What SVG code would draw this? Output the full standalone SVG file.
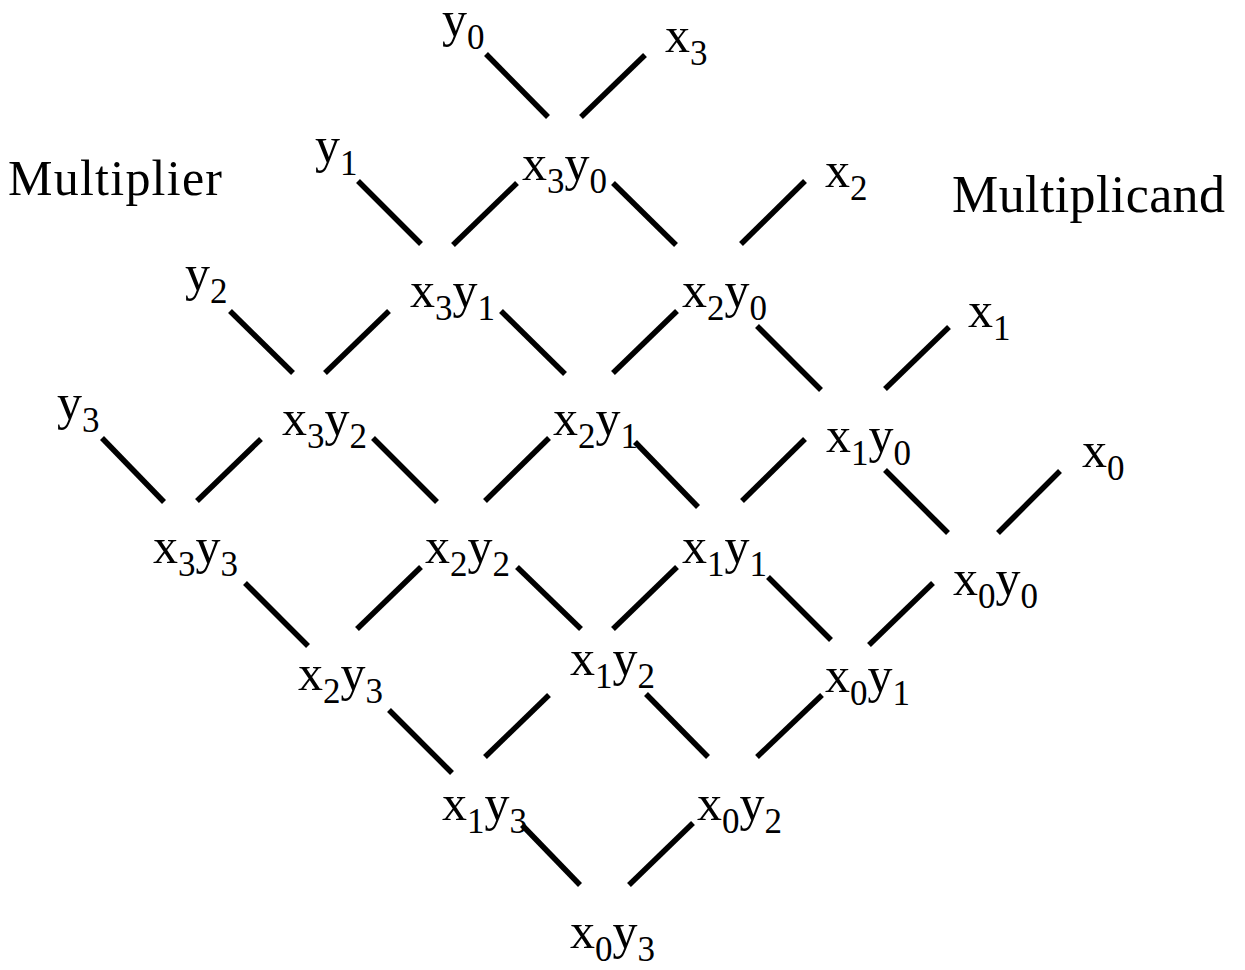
<svg xmlns="http://www.w3.org/2000/svg" width="1245" height="970" viewBox="0 0 1245 970" font-family="Liberation Serif, Times New Roman, DejaVu Serif, serif">
<style>
text{font-size:50px;fill:#000}
.s{font-size:35px}
#connectors line{stroke:#000;stroke-width:5.5;stroke-linecap:butt}
</style>
<rect width="1245" height="970" fill="#fff"/>
<g id="connectors">
<line x1="486" y1="54" x2="548" y2="117"/>
<line x1="645" y1="55" x2="581" y2="117"/>
<line x1="358" y1="181" x2="421" y2="244"/>
<line x1="517" y1="183" x2="453" y2="245"/>
<line x1="613" y1="183" x2="676" y2="245"/>
<line x1="805" y1="181" x2="741" y2="244"/>
<line x1="230" y1="311" x2="293" y2="373"/>
<line x1="389" y1="311" x2="325" y2="373"/>
<line x1="501" y1="311" x2="565" y2="374"/>
<line x1="677" y1="311" x2="613" y2="373"/>
<line x1="757" y1="326" x2="821" y2="390"/>
<line x1="949" y1="327" x2="885" y2="389"/>
<line x1="102" y1="438" x2="164" y2="502"/>
<line x1="261" y1="439" x2="197" y2="501"/>
<line x1="373" y1="438" x2="437" y2="502"/>
<line x1="549" y1="438" x2="485" y2="501"/>
<line x1="635" y1="442" x2="698" y2="507"/>
<line x1="805" y1="439" x2="742" y2="501"/>
<line x1="885" y1="470" x2="948" y2="533"/>
<line x1="1060" y1="471" x2="998" y2="533"/>
<line x1="245" y1="583" x2="308" y2="646"/>
<line x1="421" y1="567" x2="357" y2="629"/>
<line x1="517" y1="567" x2="581" y2="629"/>
<line x1="677" y1="567" x2="613" y2="629"/>
<line x1="768" y1="577" x2="831" y2="640"/>
<line x1="933" y1="583" x2="869" y2="645"/>
<line x1="389" y1="710" x2="452" y2="773"/>
<line x1="549" y1="695" x2="485" y2="757"/>
<line x1="646" y1="694" x2="708" y2="757"/>
<line x1="822" y1="695" x2="757" y2="757"/>
<line x1="522" y1="825" x2="580" y2="885"/>
<line x1="693" y1="823" x2="629" y2="885"/>
</g>
<g id="label-multiplier"><text x="8" y="195" textLength="214" lengthAdjust="spacing">Multiplier</text></g>
<g id="label-multiplicand"><text x="952" y="212" style="font-size:52px" textLength="273" lengthAdjust="spacing">Multiplicand</text></g>
<g id="in-y0"><text x="442" y="36">y<tspan class="s" dy="13">0</tspan></text></g>
<g id="in-x3"><text x="665" y="52">x<tspan class="s" dy="13">3</tspan></text></g>
<g id="in-y1"><text x="315" y="162">y<tspan class="s" dy="13">1</tspan></text></g>
<g id="in-x2"><text x="825" y="187">x<tspan class="s" dy="13">2</tspan></text></g>
<g id="in-y2"><text x="185" y="290">y<tspan class="s" dy="13">2</tspan></text></g>
<g id="in-x1"><text x="968" y="327">x<tspan class="s" dy="13">1</tspan></text></g>
<g id="in-y3"><text x="57" y="419">y<tspan class="s" dy="13">3</tspan></text></g>
<g id="in-x0"><text x="1082" y="467">x<tspan class="s" dy="13">0</tspan></text></g>
<g id="p-x3y0"><text x="522" y="180">x<tspan class="s" dy="13">3</tspan><tspan dy="-13">y</tspan><tspan class="s" dy="13">0</tspan></text></g>
<g id="p-x3y1"><text x="410" y="307">x<tspan class="s" dy="13">3</tspan><tspan dy="-13">y</tspan><tspan class="s" dy="13">1</tspan></text></g>
<g id="p-x2y0"><text x="682" y="307">x<tspan class="s" dy="13">2</tspan><tspan dy="-13">y</tspan><tspan class="s" dy="13">0</tspan></text></g>
<g id="p-x3y2"><text x="282" y="435">x<tspan class="s" dy="13">3</tspan><tspan dy="-13">y</tspan><tspan class="s" dy="13">2</tspan></text></g>
<g id="p-x2y1"><text x="553" y="435">x<tspan class="s" dy="13">2</tspan><tspan dy="-13">y</tspan><tspan class="s" dy="13">1</tspan></text></g>
<g id="p-x1y0"><text x="826" y="452">x<tspan class="s" dy="13">1</tspan><tspan dy="-13">y</tspan><tspan class="s" dy="13">0</tspan></text></g>
<g id="p-x3y3"><text x="153" y="563">x<tspan class="s" dy="13">3</tspan><tspan dy="-13">y</tspan><tspan class="s" dy="13">3</tspan></text></g>
<g id="p-x2y2"><text x="425" y="563">x<tspan class="s" dy="13">2</tspan><tspan dy="-13">y</tspan><tspan class="s" dy="13">2</tspan></text></g>
<g id="p-x1y1"><text x="682" y="563">x<tspan class="s" dy="13">1</tspan><tspan dy="-13">y</tspan><tspan class="s" dy="13">1</tspan></text></g>
<g id="p-x0y0"><text x="953" y="595">x<tspan class="s" dy="13">0</tspan><tspan dy="-13">y</tspan><tspan class="s" dy="13">0</tspan></text></g>
<g id="p-x2y3"><text x="298" y="690">x<tspan class="s" dy="13">2</tspan><tspan dy="-13">y</tspan><tspan class="s" dy="13">3</tspan></text></g>
<g id="p-x1y2"><text x="570" y="675">x<tspan class="s" dy="13">1</tspan><tspan dy="-13">y</tspan><tspan class="s" dy="13">2</tspan></text></g>
<g id="p-x0y1"><text x="825" y="692">x<tspan class="s" dy="13">0</tspan><tspan dy="-13">y</tspan><tspan class="s" dy="13">1</tspan></text></g>
<g id="p-x1y3"><text x="442" y="820">x<tspan class="s" dy="13">1</tspan><tspan dy="-13">y</tspan><tspan class="s" dy="13">3</tspan></text></g>
<g id="p-x0y2"><text x="697" y="820">x<tspan class="s" dy="13">0</tspan><tspan dy="-13">y</tspan><tspan class="s" dy="13">2</tspan></text></g>
<g id="p-x0y3"><text x="570" y="948">x<tspan class="s" dy="13">0</tspan><tspan dy="-13">y</tspan><tspan class="s" dy="13">3</tspan></text></g>
</svg>
